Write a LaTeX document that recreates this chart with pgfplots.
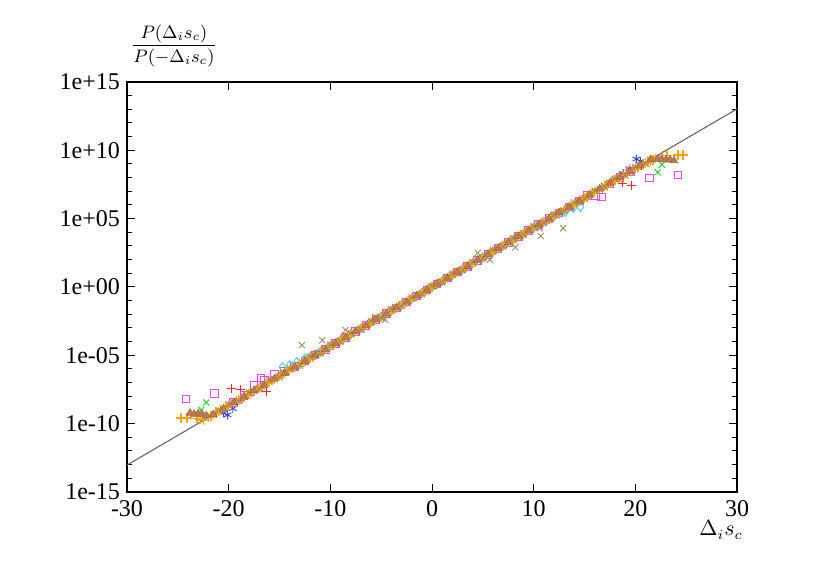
\documentclass[border=0pt]{standalone}
\usepackage{pgfplots}
\pgfplotsset{compat=1.18}
\usepackage{fontspec}
\setmainfont{Liberation Serif}
\definecolor{cred}{RGB}{240,40,40}
\definecolor{cgreen}{RGB}{20,210,20}
\definecolor{cblue}{RGB}{40,70,235}
\definecolor{cmag}{RGB}{235,70,235}
\definecolor{ccyan}{RGB}{60,215,240}
\definecolor{corange}{RGB}{255,160,0}
\definecolor{ckhaki}{RGB}{150,140,100}
\definecolor{cbrown}{RGB}{185,125,85}
\begin{document}
\begin{tikzpicture}
\useasboundingbox (-63.5pt,-47.5pt) rectangle (351.5pt,246pt);
\begin{axis}[
  scale only axis,
  width=305pt, height=205pt,
  xmin=-30, xmax=30,
  ymode=log, ymin=1e-15, ymax=1e15,
  xtick={-30,-20,-10,0,10,20,30},
  xticklabels={-30,-20,-10,0,10,20,30},
  ytick={1e-15,1e-10,1e-5,1,1e5,1e10,1e15},
  yticklabels={1e-15,1e-10,1e-05,1e+00,1e+05,1e+10,1e+15},
  minor ytick={1e-14,1e-13,1e-12,1e-11,1e-9,1e-8,1e-7,1e-6,1e-4,1e-3,1e-2,1e-1,1e1,1e2,1e3,1e4,1e6,1e7,1e8,1e9,1e11,1e12,1e13,1e14},
  minor xtick={},
  tick align=inside,
  major tick length=4pt,
  minor tick length=2.5pt,
  axis line style={line width=0.6pt},
  tick style={line width=0.5pt, black},
  ticklabel style={font=\fontsize{12}{14}\selectfont},
  yticklabel style={xshift=0pt},
  xticklabel style={yshift=-0.5pt},
  clip=true,
]
% red +
\addplot[only marks, mark=+, mark size=2.2pt, color=cred, line width=0.45pt] coordinates {
(-20,2.3e-9) (-19.7,3.5e-8) (-19,5.0e-9) (-18.8,3.2e-8) (-18,1.7e-8) (-17,3.8e-8) (-16.3,2.1e-8) (-16,1.2e-7) (-15,2.9e-7) (-14,8.8e-7) (-13,2.1e-6) (-12,6.5e-6) (-11,1.6e-5) (-10,4.8e-5) (-9,1.15e-4) (-8,3.5e-4) (-7,8.8e-4) (-6,2.6e-3) (-5,6.4e-3) (-4,0.019) (-3,0.047) (-2,0.14) (-1,0.35) (0,1.05) (1,2.6) (2,7.7) (3,19) (4,57) (5,142) (6,420) (7,1050) (8,3100) (9,7800) (10,2.3e4) (11,5.7e4) (12,1.7e5) (13,4.2e5) (14,1.25e6) (15,3.1e6) (16,9.3e6) (17,2.3e7) (18,6.9e7) (18.7,4.0e7) (19,1.7e8) (19.6,2.8e7) (20,5.0e8) (20.6,7.5e8)
};
% green x
\addplot[only marks, mark=x, mark size=2.2pt, color=cgreen, line width=0.45pt] coordinates {
(-22.7,1.0e-9) (-22.2,3.5e-9) (-21.5,5.0e-10) (-20.5,1.3e-9) (-19.5,3.2e-9) (-18.5,9.8e-9) (-17.5,2.4e-8) (-16.5,7.1e-8) (-15.5,1.8e-7) (-14.5,5.3e-7) (-13.5,1.3e-6) (-12.5,3.9e-6) (-11.5,9.7e-6) (-10.5,2.9e-5) (-9.5,7.2e-5) (-8.5,2.1e-4) (-7.5,5.3e-4) (-6.5,1.6e-3) (-5.5,3.9e-3) (-4.5,0.0116) (-3.5,0.029) (-2.5,0.086) (-1.5,0.215) (-0.5,0.63) (0.5,1.58) (1.5,4.7) (2.5,11.7) (3.5,34.5) (4.5,86) (5.5,255) (6.5,640) (7.5,1890) (8.5,4700) (9.5,1.4e4) (10.5,3.5e4) (11.5,1.03e5) (12.5,2.6e5) (13.5,7.6e5) (14.5,1.9e6) (15.5,5.6e6) (16.5,1.41e7) (17.5,4.1e7) (18.5,1.04e8) (19.5,3.0e8) (20.5,8.3e8) (21.5,2.0e9) (22.2,2.5e8) (22.6,9.0e8)
};
% blue *
\addplot[only marks, mark=asterisk, mark size=2.2pt, color=cblue, line width=0.45pt] coordinates {
(-20.5,6.0e-10) (-20.1,4.4e-10) (-19.6,1.3e-9) (-19,5.2e-9) (-18,1.6e-8) (-17,3.9e-8) (-16,1.18e-7) (-15,2.9e-7) (-14,8.7e-7) (-13,2.15e-6) (-12,6.4e-6) (-11,1.6e-5) (-10,4.7e-5) (-9,1.17e-4) (-8,3.5e-4) (-7,8.7e-4) (-6,2.6e-3) (-5,6.4e-3) (-4,0.019) (-3,0.048) (-2,0.14) (-1,0.35) (0,1.04) (1,2.6) (2,7.7) (3,19.2) (4,57) (5,141) (6,420) (7,1050) (8,3100) (9,7750) (10,2.3e4) (11,5.7e4) (12,1.7e5) (13,4.25e5) (14,1.26e6) (15,3.4e6) (16,9.8e6) (17,2.7e7) (18,7.5e7) (18.8,2.0e8) (19.4,4.5e8) (20.1,2.3e9) (20.5,1.6e9)
};
% magenta squares
\addplot[only marks, mark=square, mark size=1.9pt, color=cmag, line width=0.5pt] coordinates {
(-24.2,6.3e-9) (-21.4,1.6e-8) (-19.5,3.6e-9) (-18.5,1.1e-8) (-17.5,6.0e-8) (-16.8,2.2e-7) (-16.5,1.6e-7) (-15.5,3.8e-7) (-14.5,6.5e-7) (-13.5,1.5e-6) (-12.5,3.9e-6) (-11.5,1.05e-5) (-10.5,2.8e-5) (-9.5,7.5e-5) (-8.5,2.1e-4) (-7.5,5.6e-4) (-6.5,1.5e-3) (-5.5,4.1e-3) (-4.5,0.0112) (-3.5,0.030) (-2.5,0.082) (-1.5,0.223) (-0.5,0.607) (0.5,1.65) (1.5,4.48) (2.5,12.2) (3.5,33) (4.5,90) (5.5,245) (6.5,665) (7.5,1808) (8.5,4915) (9.5,1.34e4) (10.5,3.6e4) (11.5,9.9e4) (12.5,2.68e5) (13.5,7.3e5) (14.5,1.98e6) (15.3,5.0e6) (16.1,4.5e6) (16.7,3.8e6) (17.5,3.5e7) (18.5,1.0e8) (19.5,2.9e8) (21.4,9.3e7) (24.2,1.55e8)
};
% cyan diamonds
\addplot[only marks, mark=diamond, mark size=2.2pt, color=ccyan, line width=0.5pt] coordinates {
(-14.7,1.4e-6) (-14,1.95e-6) (-13.3,3.2e-6) (-12.5,6.0e-6) (-12,7.5e-6) (-11,1.8e-5) (-10,4.9e-5) (-9,1.25e-4) (-8,3.4e-4) (-7,9.2e-4) (-6,2.5e-3) (-5,6.8e-3) (-4,0.0183) (-3,0.050) (-2,0.135) (-1,0.37) (0,1.0) (1,2.7) (2,7.4) (3,20) (4,54) (5,148) (6,400) (7,1080) (8,2900) (9,7900) (10,2.1e4) (11,5.6e4) (12,1.5e5) (12.5,2.2e5) (13.1,3.0e5) (13.9,6.0e5) (14.6,7.1e5)
};
% orange +
\addplot[only marks, mark=+, mark size=2.4pt, color=corange, line width=0.65pt] coordinates {
(-24.7,2.6e-10) (-24.1,2.6e-10) (-23.1,2.4e-10) (-22.8,2.2e-10) (-22.5,1.7e-10) (-22,2.8e-10) (-21.75,3.58e-10) (-21.5,4.6e-10) (-21.25,5.9e-10) (-21,7.6e-10) (-20.75,9.7e-10) (-20.5,1.25e-9) (-20.25,1.6e-9) (-20,2.06e-9) (-19.75,2.65e-9) (-19.5,3.4e-9) (-19.25,4.36e-9) (-19,5.6e-9) (-18.75,7.2e-9) (-18.5,9.2e-9) (-18.25,1.19e-8) (-18,1.52e-8) (-17.75,1.96e-8) (-17.5,2.5e-8) (-17.25,3.22e-8) (-17,4.1e-8) (-16.75,5.3e-8) (-16.5,6.8e-8) (-16.25,8.76e-8) (-16,1.13e-7) (-15.75,1.45e-7) (-15.5,1.86e-7) (-15.25,2.38e-7) (-15,3.06e-7) (-14.75,3.93e-7) (-14.5,5.0e-7) (-14.25,6.48e-7) (-14,8.3e-7) (-13.75,1.07e-6) (-13.5,1.37e-6) (-13.25,1.76e-6) (-13,2.26e-6) (-12.75,2.9e-6) (-12.5,3.7e-6) (-12.25,4.79e-6) (-12,6.1e-6) (-11.75,7.89e-6) (-11.5,1.01e-5) (-11.25,1.3e-5) (-11,1.67e-5) (-10.75,2.15e-5) (-10.5,2.75e-5) (-10.25,3.54e-5) (-10,4.5e-5) (-9.75,5.83e-5) (-9.5,7.5e-5) (-9.25,9.61e-5) (-9,1.23e-4) (-8.75,1.59e-4) (-8.5,2.0e-4) (-8.25,2.61e-4) (-8,3.4e-4) (-7.75,4.31e-4) (-7.5,5.5e-4) (-7.25,7.1e-4) (-7,9.1e-4) (-6.75,1.17e-3) (-6.5,1.5e-3) (-6.25,1.93e-3) (-6,2.5e-3) (-5.75,3.18e-3) (-5.5,4.1e-3) (-5.25,5.25e-3) (-5,6.7e-3) (-4.75,8.65e-3) (-4.5,0.0111) (-4.25,0.0143) (-4,0.0183) (-3.75,0.0235) (-3.5,0.0302) (-3.25,0.0388) (-3,0.0498) (-2.75,0.0639) (-2.5,0.082) (-2.25,0.105) (-2,0.135) (-1.75,0.174) (-1.5,0.223) (-1.25,0.287) (-1,0.368) (-0.75,0.472) (-0.5,0.607) (-0.25,0.779) (0,1) (0.25,1.284) (0.5,1.65) (0.75,2.117) (1,2.72) (1.25,3.49) (1.5,4.48) (1.75,5.76) (2,7.39) (2.25,9.49) (2.5,12.2) (2.75,15.6) (3,20.1) (3.25,25.8) (3.5,33.1) (3.75,42.5) (4,54.6) (4.25,70.1) (4.5,90) (4.75,116) (5,148) (5.25,191) (5.5,245) (5.75,314) (6,403) (6.25,518) (6.5,665) (6.75,854) (7,1097) (7.25,1408) (7.5,1808) (7.75,2322) (8,2981) (8.25,3827) (8.5,4915) (8.75,6310) (9,8103) (9.25,10405) (9.5,13360) (9.75,17154) (10,22026) (10.25,28283) (10.5,36316) (10.75,46630) (11,59874) (11.25,76880) (11.5,98716) (11.75,1.27e5) (12,1.63e5) (12.25,2.09e5) (12.5,2.68e5) (12.75,3.45e5) (13,4.42e5) (13.25,5.68e5) (13.5,7.29e5) (13.75,9.37e5) (14,1.2e6) (14.25,1.54e6) (14.5,1.98e6) (14.75,2.55e6) (15,3.27e6) (15.25,4.2e6) (15.5,5.39e6) (15.75,6.92e6) (16,8.89e6) (16.25,1.14e7) (16.5,1.47e7) (16.75,1.88e7) (17,2.42e7) (17.25,3.1e7) (17.5,3.98e7) (17.75,5.11e7) (18,6.57e7) (18.25,8.43e7) (18.5,1.08e8) (18.75,1.39e8) (19,1.78e8) (19.25,2.29e8) (19.5,2.94e8) (19.75,3.78e8) (20,4.85e8) (20.25,6.2e8) (20.5,8.0e8) (20.75,9.5e8) (21,1.2e9) (21.25,1.4e9) (21.5,1.5e9) (21.75,2.0e9) (22,2.5e9) (22.7,4.0e9) (23.1,4.3e9) (24.2,4.5e9) (24.7,4.5e9)
};
% khaki x
\addplot[only marks, mark=x, mark size=2.2pt, color=ckhaki, line width=0.45pt] coordinates {
(-21,1.0e-9) (-20,2.6e-9) (-19,4.5e-9) (-18,1.9e-8) (-17,3.3e-8) (-16,1.5e-7) (-15,2.5e-7) (-14,1.1e-6) (-13,1.8e-6) (-12.8,5.6e-5) (-12,7.8e-6) (-11,1.3e-5) (-10.8,1.26e-4) (-10,5.8e-5) (-9,1.0e-4) (-8.5,7.0e-4) (-8,4.3e-4) (-7,7.4e-4) (-6,3.2e-3) (-5.6,6.3e-3) (-5,5.5e-3) (-4.6,4.0e-3) (-4,0.023) (-3,0.041) (-2,0.17) (-1,0.30) (0,1.25) (1,2.2) (2,9.3) (3,16.5) (4,69) (4.5,316) (5,121) (5.7,100) (6,510) (7,890) (8,3750) (8.2,800) (9,6600) (10,2.8e4) (10.6,2.0e4) (10.7,5.4e3) (11,4.9e4) (12,2.05e5) (12.9,2.0e4) (13,3.6e5) (14,1.5e6) (15,2.7e6) (16,1.1e7) (17,2.0e7) (18,8.2e7) (19,1.45e8) (20,6.1e8) (21,1.1e9)
};
% brown triangles
\addplot[only marks, mark=triangle*, mark size=2.2pt, color=cbrown!85!black, fill=cbrown, line width=0.3pt] coordinates {
(-23.8,6.0e-10) (-23.4,5.0e-10) (-23.0,5.5e-10) (-22.6,4.5e-10) (-22.2,3.8e-10) (-21.5,4.8e-10) (-20.5,1.2e-9) (-19.5,3.5e-9) (-18.5,9.0e-9) (-17.5,2.6e-8) (-16.5,6.6e-8) (-15.5,1.9e-7) (-14.5,4.9e-7) (-13.5,1.4e-6) (-12.5,3.6e-6) (-11.5,1.03e-5) (-10.5,2.7e-5) (-9.5,7.6e-5) (-8.5,2.0e-4) (-7.5,5.6e-4) (-6.5,1.48e-3) (-5.5,4.2e-3) (-4.5,0.0109) (-3.5,0.031) (-2.5,0.080) (-1.5,0.228) (-0.5,0.59) (0.5,1.69) (1.5,4.4) (2.5,12.5) (3.5,32.4) (4.5,92) (5.5,240) (6.5,680) (7.5,1770) (8.5,5020) (9.5,1.31e4) (10.5,3.7e4) (11.5,9.7e4) (12.5,2.74e5) (13.5,7.1e5) (14.5,2.02e6) (15.5,5.3e6) (16.5,1.5e7) (17.5,3.9e7) (18.5,1.1e8) (19.5,2.9e8) (20.5,8.2e8) (21.5,2.1e9) (22.2,2.3e9) (22.6,2.2e9) (23.0,2.0e9) (23.4,2.1e9) (23.8,1.8e9)
};
% theory line
\addplot[color={rgb,255:red,100;green,100;blue,100}, line width=0.55pt, no marks] coordinates {
(-30,9.358e-14) (30,1.0686e13)
};
\end{axis}
\node[font=\fontsize{10.5}{12}\selectfont] at (297pt,-19pt) {$\Delta_i s_c$};
\node[font=\fontsize{9}{11}\selectfont] at (23.5pt,223pt) {$\displaystyle\frac{P(\Delta_i s_c)}{P(-\Delta_i s_c)}$};
\end{tikzpicture}
\end{document}
